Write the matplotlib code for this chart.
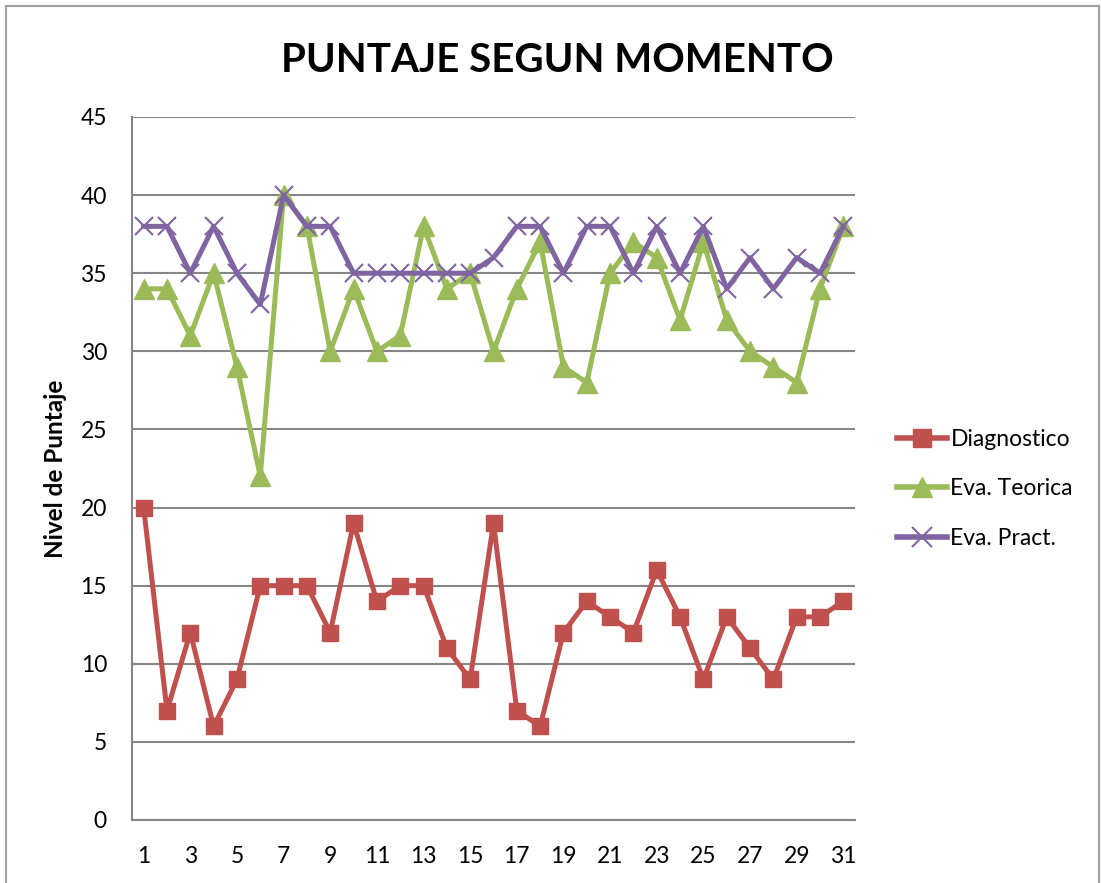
import matplotlib
matplotlib.use("Agg")
import matplotlib.pyplot as plt
from matplotlib.lines import Line2D
from matplotlib.patches import Rectangle

plt.rcParams['font.family'] = ['Lato', 'DejaVu Sans']

categories = list(range(1, 32))
diagnostico = [20, 7, 12, 6, 9, 15, 15, 15, 12, 19, 14, 15, 15, 11, 9, 19, 7, 6, 12, 14,
               13, 12, 16, 13, 9, 13, 11, 9, 13, 13, 14]
eva_teorica = [34, 34, 31, 35, 29, 22, 40, 38, 30, 34, 30, 31, 38, 34, 35, 30, 34, 37, 29, 28,
               35, 37, 36, 32, 37, 32, 30, 29, 28, 34, 38]
eva_pract = [38, 38, 35, 38, 35, 33, 40, 38, 38, 35, 35, 35, 35, 35, 35, 36, 38, 38, 35, 38,
             38, 35, 38, 35, 38, 34, 36, 34, 36, 35, 38]
series_names = ["Diagnostico", "Eva. Teorica", "Eva. Pract."]
yticks = list(range(0, 46, 5))
xtick_labels = [str(c) for c in categories[::2]]

RED = "#C0504D"
GREEN = "#9BBB59"
PURPLE = "#8064A2"
GRID = "#868686"

fig = plt.figure(figsize=(11.01, 8.83), dpi=100)
fig.patches.append(Rectangle((6 / 1101, -0.01), (1099 - 6) / 1101, 1 - 6 / 883 + 0.01,
                             transform=fig.transFigure, fill=False, edgecolor="#A0A0A0",
                             linewidth=1.5))

ax = fig.add_axes([132 / 1101, (883 - 820) / 883, (855 - 132) / 1101, (820 - 117) / 883])

ax.plot(categories, diagnostico, color=RED, lw=3.6, marker="s", ms=12,
        markerfacecolor=RED, markeredgecolor=RED, label=series_names[0], zorder=3)
ax.plot(categories, eva_teorica, color=GREEN, lw=3.6, marker="^", ms=14,
        markerfacecolor=GREEN, markeredgecolor=GREEN, label=series_names[1], zorder=3)
ax.plot(categories, eva_pract, color=PURPLE, lw=3.6, marker="x", ms=13, mew=1.5,
        markeredgecolor=PURPLE, label=series_names[2], zorder=4)

ax.set_xlim(0.5, 31.5)
ax.set_ylim(0, 45)
ax.set_yticks(yticks)
ax.set_xticks(categories[::2])
ax.set_xticklabels(xtick_labels)
ax.grid(axis="y", color=GRID, lw=1.5)
ax.set_axisbelow(True)
for s in ["top", "right"]:
    ax.spines[s].set_visible(False)
for s in ["left", "bottom"]:
    ax.spines[s].set_color(GRID)
    ax.spines[s].set_linewidth(1.5)
ax.tick_params(length=0, labelsize=16.5)
ax.tick_params(axis="x", pad=19)
ax.tick_params(axis="y", pad=18)

ax.set_ylabel("Nivel de Puntaje", fontsize=17.5, fontweight="bold", labelpad=10)

fig.text(557 / 1101, 1 - 61 / 883, "PUNTAJE SEGUN MOMENTO", fontsize=29,
         fontweight="bold", ha="center", va="center")

handles = [Line2D([], [], color=RED, lw=4, marker="s", ms=13),
           Line2D([], [], color=GREEN, lw=4, marker="^", ms=14),
           Line2D([], [], color=PURPLE, lw=4, marker="x", ms=14, mew=1.5)]
fig.legend(handles, series_names, loc="center left",
           bbox_to_anchor=(876 / 1101, 1 - 489 / 883), frameon=False,
           fontsize=16.5, handlelength=2.2, handletextpad=0.15, labelspacing=1.25)

fig.savefig("out.png", dpi=100, facecolor="white")
